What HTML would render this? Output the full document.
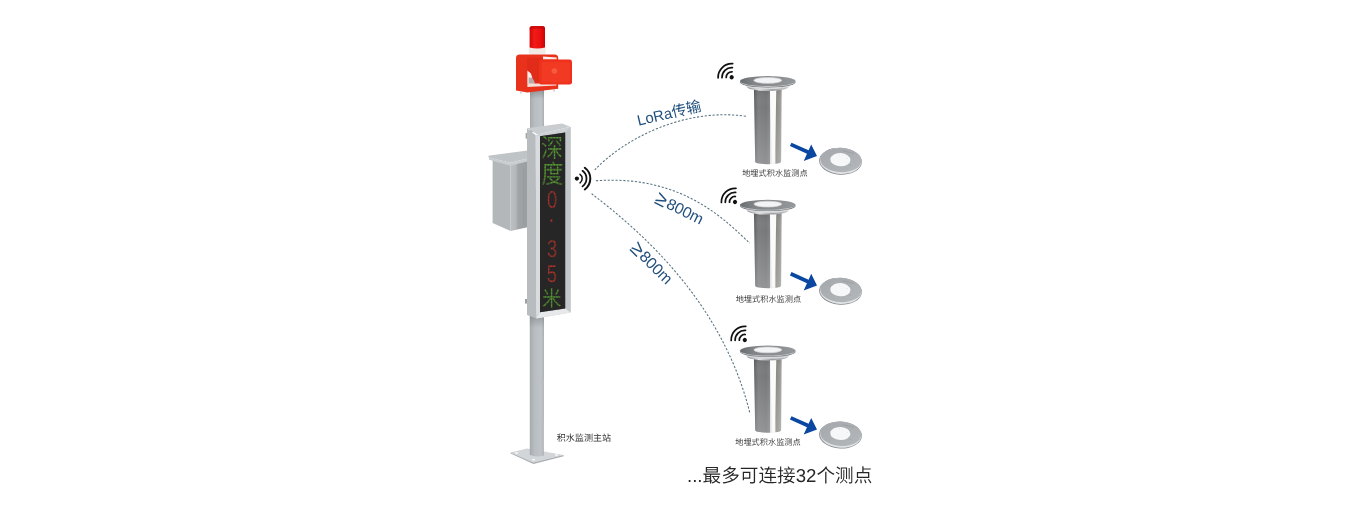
<!DOCTYPE html>
<html lang="zh-CN">
<head>
<meta charset="utf-8">
<title>积水监测系统</title>
<style>
html,body{margin:0;padding:0;background:#fff;}
body{width:1371px;height:515px;overflow:hidden;position:relative;}
svg{position:absolute;left:0;top:0;display:block;will-change:opacity;text-rendering:geometricPrecision;}
text{font-family:"Liberation Sans","Noto Sans CJK SC",sans-serif;}
.cj{font-family:"Liberation Sans","Noto Sans CJK SC",sans-serif;}
.blue{fill:#1f4e7c;}
</style>
</head>
<body>
<svg width="1371" height="515" viewBox="0 0 1371 515">
<defs>
<linearGradient id="cyl" x1="0" y1="0" x2="1" y2="0">
<stop offset="0" stop-color="#5a5b5c"/>
<stop offset="0.07" stop-color="#6f7072"/>
<stop offset="0.16" stop-color="#7d7e80"/>
<stop offset="0.45" stop-color="#77787a"/>
<stop offset="0.57" stop-color="#828385"/>
<stop offset="0.6" stop-color="#e9e9e9"/>
<stop offset="0.76" stop-color="#e9e9e9"/>
<stop offset="0.79" stop-color="#8b8986"/>
<stop offset="0.9" stop-color="#969491"/>
<stop offset="1" stop-color="#a9a7a4"/>
</linearGradient>
<linearGradient id="cylv" x1="0" y1="0" x2="0" y2="1">
<stop offset="0" stop-color="#000" stop-opacity="0.12"/>
<stop offset="0.25" stop-color="#fff" stop-opacity="0"/>
<stop offset="1" stop-color="#fff" stop-opacity="0.2"/>
</linearGradient>
<linearGradient id="collar" x1="0" y1="0" x2="1" y2="0">
<stop offset="0" stop-color="#8d9094"/>
<stop offset="0.3" stop-color="#e1e3e5"/>
<stop offset="0.6" stop-color="#9b9ea1"/>
<stop offset="1" stop-color="#c8cacc"/>
</linearGradient>
<linearGradient id="flange" x1="0" y1="0" x2="1" y2="0">
<stop offset="0" stop-color="#6a6d70"/>
<stop offset="0.25" stop-color="#828588"/>
<stop offset="0.7" stop-color="#8d9093"/>
<stop offset="1" stop-color="#95989b"/>
</linearGradient>
<linearGradient id="disc" x1="0" y1="0" x2="1" y2="1">
<stop offset="0" stop-color="#a4a8ac"/>
<stop offset="1" stop-color="#b4b8bb"/>
</linearGradient>
<linearGradient id="pole" x1="0" y1="0" x2="1" y2="0">
<stop offset="0" stop-color="#a0a5a8"/>
<stop offset="0.1" stop-color="#acb1b5"/>
<stop offset="0.24" stop-color="#b2b7bb"/>
<stop offset="0.3" stop-color="#b8bdc1"/>
<stop offset="0.8" stop-color="#bfc4c8"/>
<stop offset="0.93" stop-color="#b4b9bc"/>
<stop offset="1" stop-color="#a3a8ab"/>
</linearGradient>
<linearGradient id="boxr" x1="0" y1="0" x2="1" y2="0">
<stop offset="0" stop-color="#bcc0c3"/>
<stop offset="0.3" stop-color="#b4b8bb"/>
<stop offset="0.45" stop-color="#a0a4a7"/>
<stop offset="1" stop-color="#9a9ea1"/>
</linearGradient>
<linearGradient id="shade" x1="0" y1="0" x2="0" y2="1">
<stop offset="0" stop-color="#6f7377" stop-opacity="0.55"/>
<stop offset="1" stop-color="#6f7377" stop-opacity="0"/>
</linearGradient>
<linearGradient id="beacon" x1="0" y1="0" x2="1" y2="0">
<stop offset="0" stop-color="#d40606"/>
<stop offset="0.3" stop-color="#f01c18"/>
<stop offset="0.7" stop-color="#ea1010"/>
<stop offset="1" stop-color="#cc0404"/>
</linearGradient>
<pattern id="led" width="1.5" height="1.5" patternUnits="userSpaceOnUse">
<path d="M0 0.25 H1.5 M0.25 0 V1.5" stroke="#262525" stroke-width="0.55" fill="none" opacity="0.8"/>
</pattern>
</defs>

<!-- base plate -->
<path d="M510.6 452.4 L527 448.4 L563.6 455 L533.4 462.6 Z" fill="#d3d6d9"/>
<path d="M510.6 452.4 L533.4 462.6 L563.6 455 L563.6 456.2 L533.4 464 L510.6 453.6 Z" fill="#a9adb1"/>
<ellipse cx="516.6" cy="453" rx="1.7" ry="0.8" fill="#fff"/>
<ellipse cx="533.6" cy="459.8" rx="1.7" ry="0.8" fill="#fff"/>
<ellipse cx="556.6" cy="455" rx="1.7" ry="0.8" fill="#fff"/>
<!-- pole lower -->
<path d="M529.8 314 L544 314 L543.8 455.4 Q537 457.6 529.8 455 Z" fill="url(#pole)"/>
<rect x="529.8" y="314" width="14.2" height="14" fill="url(#shade)"/>
<!-- pole upper -->
<rect x="530" y="90" width="14" height="42" fill="url(#pole)"/>
<rect x="530" y="90" width="14" height="9" fill="url(#shade)"/>
<!-- electrical box -->
<path d="M492.6 159 L510.6 164.6 L510.6 231 L492.6 223 Z" fill="#b3b7ba"/>
<path d="M510.6 164.6 L527.4 160.4 L527.4 227.2 L510.6 231 Z" fill="url(#boxr)"/>
<path d="M488.2 155.8 L527.4 150.4 L527.4 158.6 L510 162.8 L488.8 157.4 Z" fill="#bfc4c7"/>
<path d="M488.8 157.2 L510 162.8 L527.4 158.6 L527.4 161.4 L510 165.8 L489.2 159.8 Z" fill="#c9cdd0"/>
<path d="M523.6 168 L523.6 225" stroke="#94989c" stroke-width="0.6" fill="none"/>
<!-- display body -->
<rect x="525" y="299" width="2.4" height="4.6" fill="#9da1a5"/>
<rect x="525.6" y="133" width="2" height="5.6" fill="#a3a7aa"/>
<path d="M527 128.2 L535.8 135.2 L536.4 318.6 L527 315 Z" fill="#b8bcbf"/>
<path d="M527 128.2 L562 123.6 L570.4 126.8 L537.6 134.6 Z" fill="#c9cdd0"/>
<path d="M535.8 135.2 L537.6 134.4 L570.6 126.8 L570.6 312.6 L536.4 318.6 Z" fill="#cfd2d5"/>
<path d="M535.8 135.2 L540.4 136.4 L540.4 312.2 L536.4 318.6 Z" fill="#d9dcde"/>
<path d="M570.6 126.8 L565.2 132.6 L565.2 308.6 L570.6 312.6 Z" fill="#c3c7ca"/>
<path d="M536.4 318.6 L540 312.2 L565.2 308.6 L570.6 312.6 Z" fill="#e6e8ea"/>
<path d="M540 136.2 L565.2 132.6 L565.2 308.6 L540 312.2 Z" fill="#262525"/>
<!-- LED text -->
<g text-anchor="middle" font-weight="400">
<text font-size="22" fill="#5fae35" transform="translate(552 156.8) scale(1 1.16)">深</text>
<text font-size="22" fill="#5fae35" transform="translate(552.4 183) scale(1 1.16)">度</text>
<text font-size="24.4" fill="#cc342b" transform="translate(552.2 207.5) scale(0.76 1)">0</text>
<text font-size="24.4" fill="#cc342b" transform="translate(551.4 227.4) scale(0.9 1)">·</text>
<text font-size="24.4" fill="#cc342b" transform="translate(552.2 256.7) scale(0.76 1)">3</text>
<text font-size="24.4" fill="#cc342b" transform="translate(551.8 282) scale(0.76 1)">5</text>
<text font-size="19.4" fill="#5fae35" transform="translate(551.8 305.8) scale(1 1.1)">米</text>
</g>
<path d="M540 136.2 L565.2 132.6 L565.2 308.6 L540 312.2 Z" fill="url(#led)"/>
<!-- alarm -->
<rect x="528.8" y="46" width="16.8" height="8.6" rx="2.2" fill="#f1ebe8"/>
<path d="M529.6 47.6 L529.6 28.6 Q529.6 26 532.4 26 L542.2 26 Q545 26 545 28.6 L545 47.6 Q537.2 49.6 529.6 47.6 Z" fill="url(#beacon)"/>
<path d="M529.6 29.4 L529.6 28.6 Q529.6 26 532.4 26 L542.2 26 Q545 26 545 28.6 L545 29.4 Q537.2 27.6 529.6 29.4 Z" fill="#c00808" opacity="0.7"/>
<path d="M516 58 Q516 54.4 519.6 54.4 L554.6 54.4 Q558.2 54.4 558.2 58 L558.2 88.8 L527.4 92.6 L516 90.6 Z" fill="#e8321c"/>
<path d="M527.2 58 L556.4 58 L556.4 85.6 L527.2 87 Z" fill="#e02c19"/>
<path d="M543 56.6 L556.6 57.4 L556.6 59.6 L543 59.4 Z" fill="#fbeeea"/>
<path d="M527.4 70.6 L531.4 73.4 L534.4 83.6 L527.4 83.8 Z" fill="#fbeeea"/>
<path d="M528.6 77.4 L534.6 78 L534.6 83.6 L528.6 83.6 Z" fill="#b5aba8"/>
<path d="M527.4 57.6 L540 58.8 L540 84.6 Q533 83.4 531 73.6 L528.4 71 Z" fill="#e02c19"/>
<path d="M527.4 83.6 L556.4 83.6 L556.4 85.6 L527.4 87 Z" fill="#f8e0da"/>
<rect x="539" y="59.6" width="33" height="25" rx="2.4" fill="#ee311c"/>
<rect x="541.4" y="62" width="28.4" height="20.4" rx="2" fill="#f23a22"/>
<circle cx="554.4" cy="71" r="2.8" fill="#f65a40"/>
<rect x="520.4" y="91.6" width="1.2" height="2" fill="#b9b9b9"/>
<rect x="553.4" y="89.4" width="1.2" height="2" fill="#b9b9b9"/>
<text x="583.9" y="441" font-size="9.05" fill="#333" text-anchor="middle" class="cj">积水监测主站</text>

<g transform="translate(576.9,178.6)" fill="none" stroke="#111" stroke-linecap="round">
<circle cx="0" cy="0" r="2.1" fill="#111" stroke="none"/>
<path d="M3.12 -4.29 A5.3 5.3 0 0 1 3.12 4.29" stroke-width="1.5"/>
<path d="M5.64 -7.77 A9.6 9.6 0 0 1 5.64 7.77" stroke-width="1.8"/>
<path d="M7.88 -10.84 A13.4 13.4 0 0 1 7.88 10.84" stroke-width="2.0"/>
</g>

<g fill="none" stroke="#56727f" stroke-width="1.05" stroke-dasharray="2.2 1.7">
<path d="M594.7 170.0 C624.6 138.3 685.3 107.2 747.0 116.4"/>
<path d="M595.9 180.8 C684.0 174.2 727.6 222.9 749.7 243.1"/>
<path d="M591.6 193.7 C650.3 238.4 724.2 308.6 750.0 413.6"/>
</g>


<text class="blue" font-size="14.9" text-anchor="middle" transform="translate(670.2 118.2) rotate(-13.3)">LoRa传输</text>
<g transform="translate(664.9 207.3) rotate(26.5)">
<text class="blue" font-size="15.7"><tspan x="-12.2" y="0.9" font-size="20.5">≥</tspan><tspan x="0.3" y="0">800m</tspan></text>
</g>
<g transform="translate(638.2 257.4) rotate(45)">
<text class="blue" font-size="15.7"><tspan x="-12.2" y="0.9" font-size="20.5">≥</tspan><tspan x="0.3" y="0">800m</tspan></text>
</g>

<path d="M753.9 87.3 L755.2 161.8 A12.95 2.5 0 0 0 781.1 161.8 L781.7 87.3 Z" fill="url(#cyl)"/>
<path d="M753.9 87.3 L755.2 161.8 A12.95 2.5 0 0 0 781.1 161.8 L781.7 87.3 Z" fill="url(#cylv)"/>
<path d="M769.9 89.3 L776.3 89.3 L774.7 163.4 L772.3 163.6 Z" fill="#fbfbfb"/>
<ellipse cx="767.8" cy="86.89999999999999" rx="20.6" ry="4" fill="url(#collar)"/>
<ellipse cx="767.8" cy="84.89999999999999" rx="22.6" ry="4.4" fill="#d9dadb"/>
<ellipse cx="767.8" cy="82.2" rx="27.8" ry="5.2" fill="#6f7275"/>
<ellipse cx="767.8" cy="82.0" rx="27.2" ry="4.9" fill="#c9cbcd"/>
<ellipse cx="767.8" cy="81.1" rx="27.8" ry="5" fill="url(#flange)"/>
<ellipse cx="767.8" cy="80.39999999999999" rx="13.9" ry="2.9" fill="#f3f4f5" stroke="#d4d6d8" stroke-width="0.7"/>
<g transform="translate(731.7,77.3) rotate(-44)" fill="none" stroke="#111" stroke-width="1.75" stroke-linecap="round">
<circle cx="0" cy="0" r="2.1" fill="#111" stroke="none"/>
<path d="M-4.09 -3.68 A5.5 5.5 0 0 1 4.09 -3.68"/>
<path d="M-7.21 -6.49 A9.7 9.7 0 0 1 7.21 -6.49"/>
<path d="M-10.11 -9.10 A13.6 13.6 0 0 1 10.11 -9.10"/>
</g>
<text x="774.9" y="176.1" text-anchor="middle" font-size="8.2" fill="#3a3a3a" class="cj">地埋式积水监测点</text>
<g transform="translate(0,0)"><path d="M789.9 146 L791.5 142.7 L808.6 150.3 L811.2 144.4 L817 156.1 L803.7 161.1 L807 153.8 Z" fill="#0a47a0"/></g>
<g transform="translate(840.3,161.1) rotate(3)">
<ellipse cx="0.2" cy="0.1" rx="21.4" ry="13.5" fill="#85898d"/>
<ellipse cx="0.4" cy="-0.1" rx="20.8" ry="12.9" fill="#e1e3e5"/>
<ellipse cx="0.5" cy="-1.1" rx="20.6" ry="12.1" fill="url(#disc)"/>
<ellipse cx="0" cy="-1.4" rx="10.1" ry="6.6" fill="#f6f7f8"/>
<circle cx="-10.6" cy="-5.6" r="0.35" fill="#7f8386"/><circle cx="-1" cy="-6" r="0.3" fill="#a9acaf"/><circle cx="6.6" cy="-2.8" r="0.3" fill="#a9acaf"/><circle cx="10.6" cy="4" r="0.35" fill="#7f8386"/>
<path d="M2.6 -10.2 L13 -8.4" stroke="#8c9093" stroke-width="0.9" stroke-dasharray="0.6 0.5" fill="none"/>
</g>
<path d="M753.9 211.0 L755.2 285.7 A12.95 2.5 0 0 0 781.1 285.7 L781.7 211.0 Z" fill="url(#cyl)"/>
<path d="M753.9 211.0 L755.2 285.7 A12.95 2.5 0 0 0 781.1 285.7 L781.7 211.0 Z" fill="url(#cylv)"/>
<path d="M769.9 213.0 L776.3 213.0 L774.7 287.3 L772.3 287.5 Z" fill="#fbfbfb"/>
<ellipse cx="767.8" cy="210.6" rx="20.6" ry="4" fill="url(#collar)"/>
<ellipse cx="767.8" cy="208.6" rx="22.6" ry="4.4" fill="#d9dadb"/>
<ellipse cx="767.8" cy="205.9" rx="27.8" ry="5.2" fill="#6f7275"/>
<ellipse cx="767.8" cy="205.7" rx="27.2" ry="4.9" fill="#c9cbcd"/>
<ellipse cx="767.8" cy="204.8" rx="27.8" ry="5" fill="url(#flange)"/>
<ellipse cx="767.8" cy="204.1" rx="13.9" ry="2.9" fill="#f3f4f5" stroke="#d4d6d8" stroke-width="0.7"/>
<g transform="translate(735.0,202.0) rotate(-44)" fill="none" stroke="#111" stroke-width="1.75" stroke-linecap="round">
<circle cx="0" cy="0" r="2.1" fill="#111" stroke="none"/>
<path d="M-4.09 -3.68 A5.5 5.5 0 0 1 4.09 -3.68"/>
<path d="M-7.21 -6.49 A9.7 9.7 0 0 1 7.21 -6.49"/>
<path d="M-10.11 -9.10 A13.6 13.6 0 0 1 10.11 -9.10"/>
</g>
<text x="768.4" y="301.7" text-anchor="middle" font-size="8.2" fill="#3a3a3a" class="cj">地埋式积水监测点</text>
<g transform="translate(0,129.4)"><path d="M789.9 146 L791.5 142.7 L808.6 150.3 L811.2 144.4 L817 156.1 L803.7 161.1 L807 153.8 Z" fill="#0a47a0"/></g>
<g transform="translate(840.3,291.1) rotate(3)">
<ellipse cx="0.2" cy="0.1" rx="21.4" ry="13.5" fill="#85898d"/>
<ellipse cx="0.4" cy="-0.1" rx="20.8" ry="12.9" fill="#e1e3e5"/>
<ellipse cx="0.5" cy="-1.1" rx="20.6" ry="12.1" fill="url(#disc)"/>
<ellipse cx="0" cy="-1.4" rx="10.1" ry="6.6" fill="#f6f7f8"/>
<circle cx="-10.6" cy="-5.6" r="0.35" fill="#7f8386"/><circle cx="-1" cy="-6" r="0.3" fill="#a9acaf"/><circle cx="6.6" cy="-2.8" r="0.3" fill="#a9acaf"/><circle cx="10.6" cy="4" r="0.35" fill="#7f8386"/>
<path d="M2.6 -10.2 L13 -8.4" stroke="#8c9093" stroke-width="0.9" stroke-dasharray="0.6 0.5" fill="none"/>
</g>
<path d="M753.9 356.8 L755.2 430.2 A12.95 2.5 0 0 0 781.1 430.2 L781.7 356.8 Z" fill="url(#cyl)"/>
<path d="M753.9 356.8 L755.2 430.2 A12.95 2.5 0 0 0 781.1 430.2 L781.7 356.8 Z" fill="url(#cylv)"/>
<path d="M769.9 358.8 L776.3 358.8 L774.7 431.8 L772.3 432.0 Z" fill="#fbfbfb"/>
<ellipse cx="767.8" cy="356.40000000000003" rx="20.6" ry="4" fill="url(#collar)"/>
<ellipse cx="767.8" cy="354.40000000000003" rx="22.6" ry="4.4" fill="#d9dadb"/>
<ellipse cx="767.8" cy="351.7" rx="27.8" ry="5.2" fill="#6f7275"/>
<ellipse cx="767.8" cy="351.5" rx="27.2" ry="4.9" fill="#c9cbcd"/>
<ellipse cx="767.8" cy="350.6" rx="27.8" ry="5" fill="url(#flange)"/>
<ellipse cx="767.8" cy="349.90000000000003" rx="13.9" ry="2.9" fill="#f3f4f5" stroke="#d4d6d8" stroke-width="0.7"/>
<g transform="translate(744.8,340.0) rotate(-44)" fill="none" stroke="#111" stroke-width="1.75" stroke-linecap="round">
<circle cx="0" cy="0" r="2.1" fill="#111" stroke="none"/>
<path d="M-4.09 -3.68 A5.5 5.5 0 0 1 4.09 -3.68"/>
<path d="M-7.21 -6.49 A9.7 9.7 0 0 1 7.21 -6.49"/>
<path d="M-10.11 -9.10 A13.6 13.6 0 0 1 10.11 -9.10"/>
</g>
<text x="768.0" y="444.8" text-anchor="middle" font-size="8.2" fill="#3a3a3a" class="cj">地埋式积水监测点</text>
<g transform="translate(0,273.5)"><path d="M789.9 146 L791.5 142.7 L808.6 150.3 L811.2 144.4 L817 156.1 L803.7 161.1 L807 153.8 Z" fill="#0a47a0"/></g>
<g transform="translate(840.3,434.9) rotate(3)">
<ellipse cx="0.2" cy="0.1" rx="21.4" ry="13.5" fill="#85898d"/>
<ellipse cx="0.4" cy="-0.1" rx="20.8" ry="12.9" fill="#e1e3e5"/>
<ellipse cx="0.5" cy="-1.1" rx="20.6" ry="12.1" fill="url(#disc)"/>
<ellipse cx="0" cy="-1.4" rx="10.1" ry="6.6" fill="#f6f7f8"/>
<circle cx="-10.6" cy="-5.6" r="0.35" fill="#7f8386"/><circle cx="-1" cy="-6" r="0.3" fill="#a9acaf"/><circle cx="6.6" cy="-2.8" r="0.3" fill="#a9acaf"/><circle cx="10.6" cy="4" r="0.35" fill="#7f8386"/>
<path d="M2.6 -10.2 L13 -8.4" stroke="#8c9093" stroke-width="0.9" stroke-dasharray="0.6 0.5" fill="none"/>
</g>
<text x="779.7" y="482.3" font-size="18.65" fill="#262626" text-anchor="middle" font-weight="350" class="cj">...最多可连接32个测点</text>
</svg>
</body>
</html>
